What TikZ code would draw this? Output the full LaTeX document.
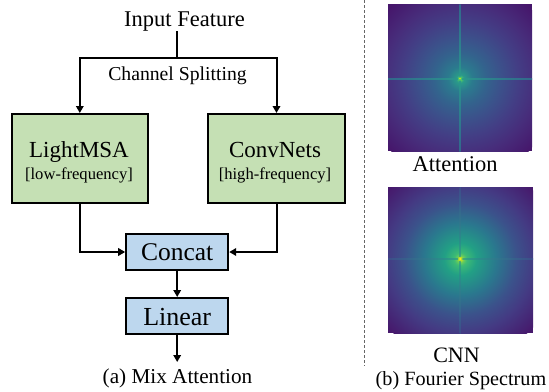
\documentclass[tikz,border=0pt]{standalone}
\usepackage{fontspec}
\setmainfont{Liberation Serif}
\usetikzlibrary{arrows.meta}

\definecolor{boxgreen}{HTML}{C5E0B4}
\definecolor{boxblue}{HTML}{BDD7EE}
\definecolor{dashgray}{HTML}{666666}

% attention spectrum colours
\definecolor{aA}{HTML}{C8E020}
\definecolor{aB}{HTML}{4AC16D}
\definecolor{aC}{HTML}{2A9A8A}
\definecolor{aD}{HTML}{2B7B8E}
\definecolor{aE}{HTML}{33638D}
\definecolor{aF}{HTML}{3B528B}
\definecolor{aG}{HTML}{433E85}
\definecolor{aH}{HTML}{472D7B}
\definecolor{aI}{HTML}{46166B}
% cnn spectrum colours
\definecolor{cA}{HTML}{FDE725}
\definecolor{cB}{HTML}{B5DE2B}
\definecolor{cC}{HTML}{6ECE58}
\definecolor{cD}{HTML}{3CBB75}
\definecolor{cE}{HTML}{22A085}
\definecolor{cF}{HTML}{2A788E}
\definecolor{cG}{HTML}{3B528B}
\definecolor{cH}{HTML}{443A83}
\definecolor{cI}{HTML}{46196C}
\definecolor{lineA}{HTML}{2A9A8C}
\definecolor{lineB}{HTML}{2F728E}
\definecolor{lineE}{HTML}{3B558C}

% the path's bounding box (radius 100pt) maps to 25bp: 1bp = 4pt
\pgfdeclareradialshading{attspec}{\pgfpoint{0bp}{0bp}}{%
 color(0bp)=(aA); color(0.4bp)=(aB); color(1bp)=(aC); color(3bp)=(aD);
 color(6.5bp)=(aE); color(10bp)=(aF); color(14.5bp)=(aG); color(19bp)=(aH);
 color(25bp)=(aI); color(50bp)=(aI)}
\pgfdeclareradialshading{cnnspec}{\pgfpoint{0bp}{0bp}}{%
 color(0bp)=(cA); color(0.4bp)=(cB); color(0.8bp)=(cC); color(1.6bp)=(cD);
 color(4bp)=(cE); color(9bp)=(cF); color(14bp)=(cG); color(18.5bp)=(cH);
 color(25bp)=(cI); color(50bp)=(cI)}

\begin{document}
\begin{tikzpicture}[x=1pt,y=-1pt,
  fs/.style={font=\fontsize{#1}{#1}\selectfont},
  ln/.style={line width=2pt},
  arr/.style={line width=2pt,-{Triangle[length=7pt,width=7.5pt]}},
  gbox/.style={draw,line width=2pt,fill=boxgreen,minimum width=136.5pt,minimum height=89pt,inner sep=0pt},
  bbox/.style={draw,line width=2pt,fill=boxblue,minimum width=102pt,minimum height=36pt,inner sep=0pt},
]
\useasboundingbox (0,0) rectangle (549,391);

% ---------- (a) Mix Attention ----------
\node[fs=22.5,anchor=base] (in) at (184.5,26) {Input Feature};
\coordinate (top) at (176.7,31);
\coordinate (sp) at (176.7,58);
\node[fs=19.7,anchor=base] (cs) at (177.5,80.5) {Channel Splitting};

\node[gbox] (light) at (79.8,158.5) {};
\node[gbox] (conv) at (276.5,158.5) {};
\node[fs=23,anchor=base] (lt) at (79,157) {LightMSA};
\node[fs=16.6,anchor=base] (lf) at (79,179.5) {[low-frequency]};
\node[fs=23,anchor=base] (ct) at (275,157) {ConvNets};
\node[fs=16.6,anchor=base] (hf) at (275,179.5) {[high-frequency]};

\node[bbox] (concat) at (177.2,252) {};
\node[fs=25.5,anchor=base] (cct) at (177.2,260) {Concat};
\node[bbox] (linear) at (177.2,316) {};
\node[fs=26,anchor=base] (lnt) at (177.2,325) {Linear};
\coordinate (out) at (177.2,362);
\node[fs=21.2,anchor=base] (capa) at (177.5,383) {(a) Mix Attention};

\draw[ln] (top) -- (sp);
\draw[arr] (sp) -| (light.north);
\draw[arr] (sp) -| (conv.north);
\draw[arr] (light.south) |- (concat.west);
\draw[arr] (conv.south) |- (concat.east);
\draw[arr] (concat.south) -- (linear.north);
\draw[arr] (linear.south) -- (out);

% ---------- separator ----------
\coordinate (d1) at (364,0);
\coordinate (d2) at (364,366);
\draw[dashgray,line width=0.9pt,dash pattern=on 3pt off 2pt] (d1) -- (d2);

% ---------- (b) Fourier Spectrum ----------
% attention spectrum
\begin{scope}
  \clip (388,4) rectangle (532,151);
  \fill[aI] (388,4) rectangle (532,151);
  \shade[shading=attspec] (460,78.7) circle (100);
  \shade[left color=lineB,right color=lineB,middle color=lineA,opacity=0.85] (388,78) rectangle (532,79.4);
  \shade[top color=lineB,bottom color=lineB,middle color=lineA,opacity=0.85] (459.3,4) rectangle (460.7,151);
  \fill[aB] (460,78.7) circle (2.2);
  \fill[aA] (460,78.7) circle (1.0);
\end{scope}
\node[fs=22.5,anchor=base] (att) at (455,171.5) {Attention};

% cnn spectrum
\begin{scope}
  \clip (388,187) rectangle (533,333);
  \fill[cI] (388,187) rectangle (533,333);
  \shade[shading=cnnspec] (460.3,259) circle (100);
  \shade[left color=lineE,right color=lineE,middle color=lineA,opacity=0.7] (388,258.4) rectangle (533,259.6);
  \shade[top color=lineE,bottom color=lineE,middle color=lineA,opacity=0.7] (459.7,187) rectangle (460.9,333);
  \fill[cB] (460.3,259) circle (2.2);
  \fill[cA] (460.3,259) circle (1.1);
\end{scope}
\node[fs=22,anchor=base] (cnn) at (456.5,362) {CNN};
\node[fs=20.2,anchor=base] (capb) at (461,385) {(b) Fourier Spectrum};
\end{tikzpicture}
\end{document}
